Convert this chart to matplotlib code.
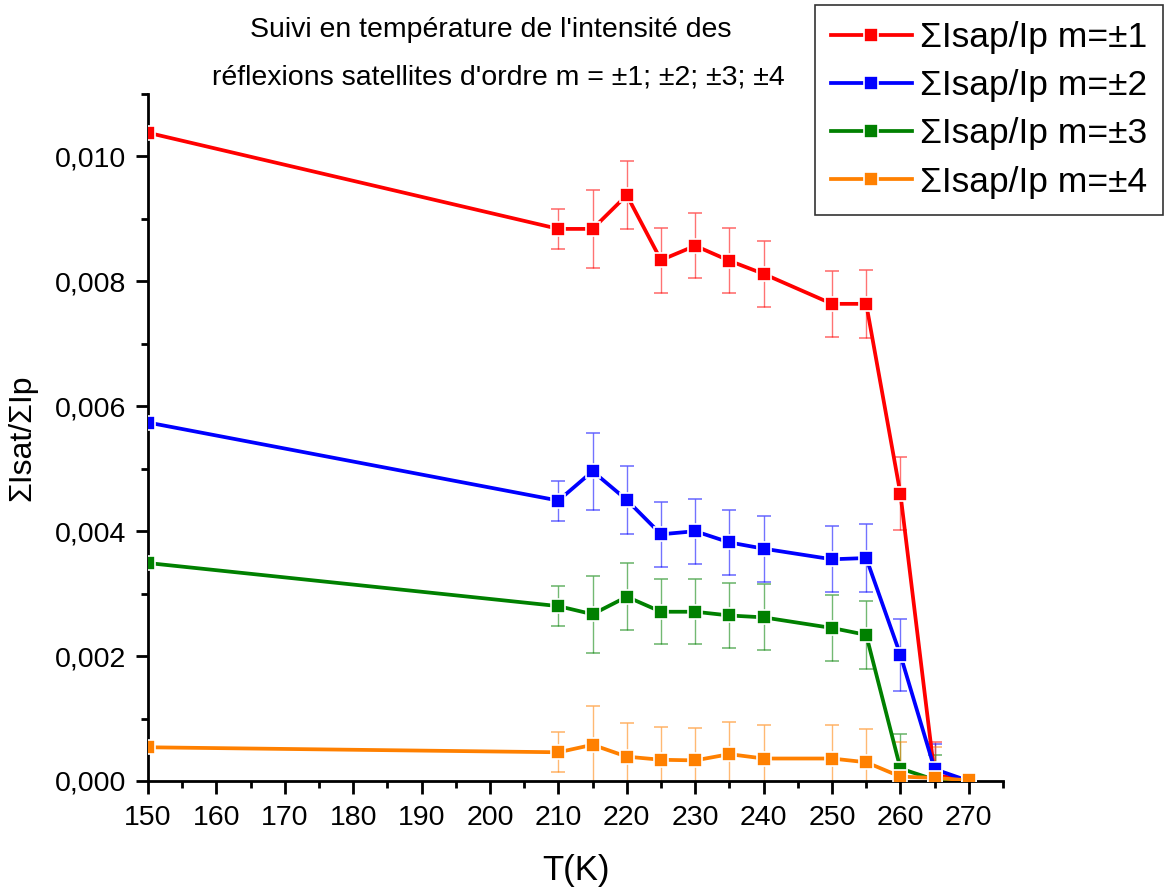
import matplotlib
matplotlib.use("Agg")
import matplotlib.pyplot as plt
from matplotlib.ticker import MultipleLocator, FuncFormatter

plt.rcParams['font.family'] = ['Liberation Sans', 'DejaVu Sans']

T = [150, 210, 215, 220, 225, 230, 235, 240, 250, 255, 260, 265, 270]

m1 = [0.01038, 0.00884, 0.00884, 0.00938, 0.00834, 0.00857, 0.00833, 0.00812, 0.00764, 0.00764, 0.00460, 0.00010, 0.0]
e1 = [0.0, 0.00032, 0.00063, 0.00054, 0.00052, 0.00052, 0.00052, 0.00053, 0.00053, 0.00054, 0.00058, 0.00052, 0.0]

m2 = [0.00574, 0.00449, 0.00496, 0.00450, 0.00395, 0.00400, 0.00382, 0.00372, 0.00355, 0.00357, 0.00202, 0.00019, 0.0]
e2 = [0.0, 0.00032, 0.00062, 0.00054, 0.00052, 0.00052, 0.00052, 0.00053, 0.00053, 0.00055, 0.00058, 0.00040, 0.0]

m3 = [0.00349, 0.00280, 0.00267, 0.00295, 0.00271, 0.00271, 0.00265, 0.00262, 0.00245, 0.00234, 0.00020, 0.00002, 0.0]
e3 = [0.0, 0.00032, 0.00062, 0.00054, 0.00052, 0.00052, 0.00052, 0.00053, 0.00053, 0.00054, 0.00055, 0.00040, 0.0]

m4 = [0.00054, 0.00046, 0.00058, 0.00039, 0.00034, 0.00033, 0.00043, 0.00036, 0.00036, 0.00030, 0.00007, 0.00005, 0.00001]
e4 = [0.0, 0.00032, 0.00062, 0.00054, 0.00052, 0.00052, 0.00052, 0.00053, 0.00053, 0.00054, 0.00055, 0.00050, 0.0]

labels = ["ΣIsap/Ip m=±1", "ΣIsap/Ip m=±2", "ΣIsap/Ip m=±3", "ΣIsap/Ip m=±4"]
colors = ["#FF0000", "#0000FF", "#008000", "#FF8000"]
series = [(m1, e1), (m2, e2), (m3, e3), (m4, e4)]

fig = plt.figure(figsize=(11.67, 8.90), dpi=100)
ax = fig.add_axes([148/1167, 1-781/890, (1003-148)/1167, (781-94)/890])

handles = []
for (vals, errs), c, lab in zip(series, colors, labels):
    ax.errorbar(T, vals, yerr=errs, fmt='none', ecolor=c, elinewidth=1.0,
                capsize=4.8, capthick=1.2, alpha=0.55, zorder=2)
    h, = ax.plot(T, vals, color=c, lw=2.7, marker='s', markersize=10,
                 markeredgecolor='white', markeredgewidth=1.2, label=lab, zorder=3)
    handles.append(h)

ax.set_xlim(150, 275)
ax.set_ylim(0, 0.011)
ax.xaxis.set_major_locator(MultipleLocator(10))
ax.xaxis.set_minor_locator(MultipleLocator(5))
ax.yaxis.set_major_locator(MultipleLocator(0.002))
ax.yaxis.set_minor_locator(MultipleLocator(0.001))
ax.yaxis.set_major_formatter(FuncFormatter(lambda v, p: f"{v:.3f}".replace('.', ',')))

for s in ['top', 'right']:
    ax.spines[s].set_visible(False)
for s in ['left', 'bottom']:
    ax.spines[s].set_linewidth(2.0)

ax.tick_params(which='major', direction='out', length=9, width=2.0, labelsize=20.5)
ax.tick_params(axis='x', which='major', pad=8)
ax.tick_params(axis='y', which='major', pad=7)
ax.tick_params(which='minor', direction='out', length=5, width=2.0)

ax.set_xlabel("T(K)", fontsize=25, labelpad=17)
ax.set_ylabel("ΣIsat/ΣIp", fontsize=23, labelpad=12)

fig.text(491/1167, 1-30/890, "Suivi en température de l'intensité des",
         ha='center', va='center', fontsize=20.5)
fig.text(498/1167, 1-77/890, "réflexions satellites d'ordre m = ±1; ±2; ±3; ±4",
         ha='center', va='center', fontsize=20.5)

leg = fig.legend(handles=handles, loc='upper right',
                 bbox_to_anchor=(1163/1167, 1-5/890), fontsize=25.5,
                 frameon=True, fancybox=False, edgecolor='black',
                 handlelength=2.3, handletextpad=0.22, borderpad=0.45,
                 labelspacing=0.43, borderaxespad=0)
leg.get_frame().set_linewidth(1.2)

fig.savefig("out.png", dpi=100)
